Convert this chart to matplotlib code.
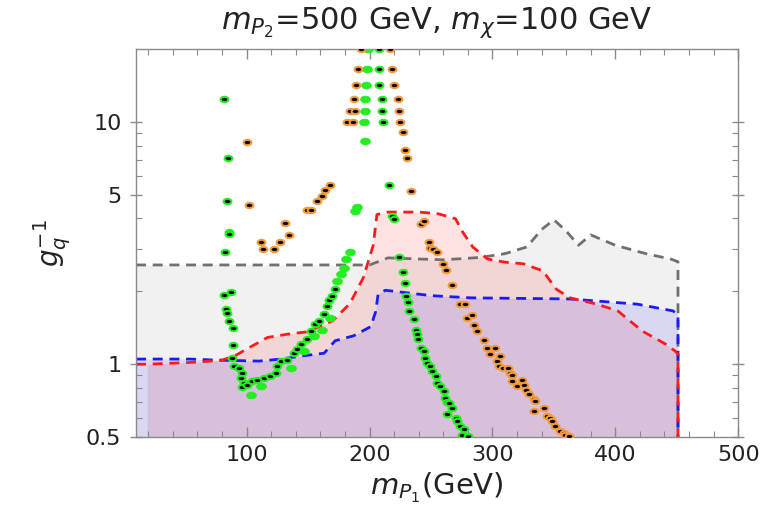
import matplotlib
matplotlib.use("Agg")
import matplotlib.pyplot as plt
import numpy as np
from matplotlib.path import Path
from matplotlib.ticker import FixedLocator, MultipleLocator, LogLocator, NullFormatter

plt.rcParams["font.family"] = ["DejaVu Sans"]
plt.rcParams["mathtext.fontset"] = "dejavusans"

# ---- exclusion / reach curves (x in GeV, y = 1/g_q) ----
gray_x = [10, 200, 215, 240, 260, 290, 310, 328, 340, 350, 360, 370, 380, 400, 425, 445, 451, 451]
gray_y = [2.57, 2.57, 2.75, 2.72, 2.70, 2.76, 2.86, 3.05, 3.6, 3.95, 3.55, 3.1, 3.42, 3.1, 2.86, 2.72, 2.65, 0.5]

red_x = [10, 19, 40, 60, 80, 90, 102, 117, 133, 149, 170, 184, 195, 203, 206, 215, 240, 256, 270, 276, 284,
         296, 310, 325, 341, 352, 363, 385, 402, 422, 441, 449, 451, 451]
red_y = [1.0, 1.0, 1.01, 1.02, 1.04, 1.08, 1.17, 1.29, 1.33, 1.36, 1.51, 1.78, 2.28, 3.1, 4.15, 4.25, 4.25, 4.18,
         3.99, 3.5, 3.05, 2.72, 2.64, 2.6, 2.43, 2.04, 1.88, 1.77, 1.66, 1.37, 1.21, 1.13, 1.1, 0.5]

blue_x = [10, 54, 75, 110, 128, 144, 163, 172, 187, 201, 205, 207, 213, 250, 282, 363, 418, 447, 451, 451]
blue_y = [1.05, 1.05, 1.04, 1.03, 1.05, 1.08, 1.11, 1.25, 1.31, 1.43, 1.65, 1.95, 2.02, 1.92, 1.88, 1.86,
          1.77, 1.66, 1.6, 0.5]

# ---- scan points ----
# orange points with a black core
orange_x = [193, 191, 189, 187, 184, 188, 182, 186.5,
            217, 218, 220, 223, 224, 225, 227, 228.5, 230.6, 234,
            100, 102, 112, 113, 122, 127, 131, 134.5, 149, 152, 157.5, 161.5, 164, 168,
            242, 244, 248, 249.6, 252, 255, 260, 262, 267, 274, 277.5, 279, 283.5, 285, 287.5,
            293, 295.7, 298, 302.4, 304, 306.5, 305, 309, 313, 314.6, 316, 316, 320, 324, 325.5,
            327, 329.5, 333.6, 335, 333.6, 341.7, 344.5, 347, 348.5, 351, 355, 358, 359, 362]
orange_y = [20, 16.6, 14.3, 12.5, 11.1, 11.1, 10, 10,
            20, 16.6, 14.3, 12.5, 11.1, 10, 9.1, 7.7, 7.1, 5.2,
            8.3, 4.53, 3.2, 3.0, 3.0, 3.2, 3.83, 3.42, 4.33, 4.33, 4.74, 4.97, 5.25, 5.52,
            3.81, 3.91, 3.2, 3.03, 3.0, 2.92, 2.59, 2.45, 2.12, 1.77, 1.77, 1.556, 1.6, 1.45, 1.37,
            1.255, 1.17, 1.1, 1.17, 1.03, 1.08, 0.98, 0.965, 0.965, 0.92, 0.906, 0.85, 0.81, 0.864, 0.823,
            0.785, 0.75, 0.72, 0.703, 0.639, 0.659, 0.609, 0.6, 0.58, 0.553, 0.53, 0.519, 0.51, 0.503]

# green points with a black core
gblk_x = [207.6, 208, 208, 210, 210, 211,
          81.5, 85, 84.3, 85.6, 85.8, 82, 216, 218, 219.5, 223.6,
          81.6, 87.5, 83, 84.3, 85.6, 89, 89, 88.4, 89.7, 93.7, 96.5, 95, 97.8, 96.5, 100.6,
          104.6, 108.7, 114, 119, 123.6, 125, 127.6, 133, 138.5, 141, 144, 149, 152, 156,
          158.8, 162.8, 165.6, 167, 169.6, 171.5,
          227, 229, 229.5, 231, 232, 236, 238, 238.8, 239.3, 241.5, 244, 245.5, 247, 249.6,
          251, 253.7, 255, 257.7, 260.4, 261.8, 263, 264.5, 263, 267, 270, 271, 274, 275, 277, 280]
gblk_y = [20, 16.6, 14.3, 12.5, 11.1, 10,
          12.5, 7.12, 4.72, 3.53, 3.45, 2.92, 5.52, 4.1, 3.99, 2.76,
          1.94, 1.99, 1.685, 1.63, 1.51, 1.406, 1.199, 1.06, 0.98, 0.965, 0.92, 0.877, 0.837, 0.805, 0.823,
          0.85, 0.864, 0.877, 0.892, 0.92, 0.98, 1.03, 1.045, 1.11, 1.16, 1.21, 1.265, 1.37, 1.46,
          1.51, 1.61, 1.74, 1.85, 1.91, 2.04,
          2.4, 2.17, 1.91, 1.81, 1.66, 1.53, 1.39, 1.33, 1.265, 1.17, 1.13, 1.06, 1.01, 0.98,
          0.935, 0.892, 0.837, 0.81, 0.773, 0.725, 0.70, 0.691, 0.62, 0.659, 0.6, 0.58, 0.553, 0.51, 0.54, 0.505]

# plain green points
green_x = [195.4, 196, 196.7, 196.7, 197.5, 198, 199, 190, 188, 184.5, 180.5, 179, 176.4, 173.7,
           167.7, 161.5, 154.7, 146.6, 135.8, 111.4, 103.8]
green_y = [10, 8.32, 11.1, 12.5, 14.3, 16.6, 20, 4.44, 4.3, 2.92, 2.71, 2.5, 2.35, 2.21,
           1.556, 1.39, 1.31, 1.13, 0.96, 0.81, 0.749]

x_ticks = [100, 200, 300, 400, 500]
y_ticks = [0.5, 1, 5, 10]
y_ticklabels = ["0.5", "1", "5", "10"]

fig = plt.figure(figsize=(7.73, 5.13), dpi=100)
ax = fig.add_axes([0.176, 0.148, 0.779, 0.756])
ax.set_yscale("log")

frame_col = "#8a8a8a"
dash = (0, (3.6, 2.4))

red_arr = np.asarray(red_x, dtype=float)
ax.fill_between(gray_x, 0.5, gray_y, color="#808080", alpha=0.11, lw=0, zorder=1)
ax.fill_between(red_x, 0.5, red_y, where=red_arr >= 19, color="#ff0000", alpha=0.11, lw=0, zorder=1)
ax.fill_between(blue_x, 0.5, blue_y, color="#0000ff", alpha=0.10, lw=0, zorder=1)
ax.plot(gray_x, gray_y, color="#707070", lw=2.0, ls=dash, zorder=2)
ax.plot(blue_x, blue_y, color="#1a1aff", lw=2.0, ls=dash, zorder=2)
ax.plot(red_x, red_y, color="#ff1a1a", lw=2.0, ls=dash, zorder=2)

circ = Path.unit_circle()
ellipse = Path(circ.vertices * np.array([1.45, 1.0]), circ.codes)

ax.plot(green_x, green_y, ls="none", marker=ellipse, ms=7.0, mfc="#22ee22", mec="#22ee22",
        mew=0.6, zorder=3)
ax.plot(gblk_x, gblk_y, ls="none", marker=ellipse, ms=5.6, mfc="black", mec="#22ee22",
        mew=1.5, zorder=4)
ax.plot(orange_x, orange_y, ls="none", marker=ellipse, ms=5.6, mfc="black", mec="#f39a3d",
        mew=1.5, zorder=4)

ax.set_xlim(10, 500)
ax.set_ylim(0.5, 20)
ax.xaxis.set_major_locator(FixedLocator(x_ticks))
ax.xaxis.set_minor_locator(MultipleLocator(20))
ax.yaxis.set_major_locator(FixedLocator(y_ticks))
ax.set_yticklabels(y_ticklabels)
ax.yaxis.set_minor_locator(LogLocator(base=10, subs=np.arange(2, 10)))
ax.yaxis.set_minor_formatter(NullFormatter())

ax.tick_params(which="both", direction="in", top=True, right=True, color=frame_col,
               labelsize=16, labelcolor="#222222")
ax.tick_params(which="major", length=7, width=1.0, pad=6)
ax.tick_params(which="minor", length=4, width=0.8)
ax.tick_params(axis="y", which="major", direction="inout", length=9)
for s in ax.spines.values():
    s.set_color(frame_col)
    s.set_linewidth(1.0)

ax.set_xlabel(r"$m_{P_1}$(GeV)", fontsize=21, color="#222222", labelpad=4)
ax.set_ylabel(r"$g_q^{-1}$", fontsize=20, color="#222222")
ax.yaxis.set_label_coords(-0.105, 0.5)

fig.text(0.565, 0.955, r"$m_{P_2}$=500 GeV, $m_\chi$=100 GeV", fontsize=22,
         ha="center", va="center", color="#222222")

fig.savefig("out.png", dpi=100)
